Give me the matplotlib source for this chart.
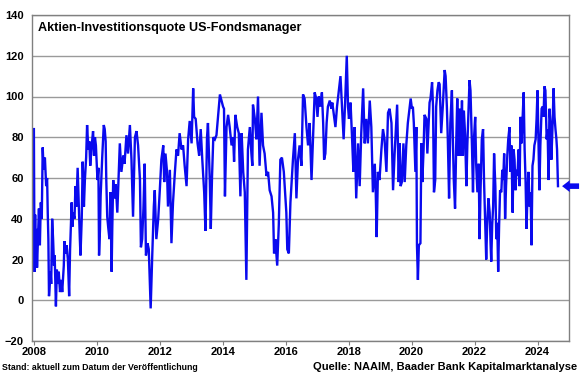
import numpy as np
import matplotlib
matplotlib.use("Agg")
import matplotlib.pyplot as plt

plt.rcParams["font.family"] = ["Liberation Sans", "DejaVu Sans"]

# NAAIM Exposure Index (Jahr als Dezimalzahl, Wert)
seg_2008_2010 = [
    (2008.00, 84), (2008.02, 14), (2008.04, 42), (2008.06, 20), (2008.08, 35), (2008.10, 16),
    (2008.13, 30), (2008.16, 45), (2008.19, 27), (2008.22, 48), (2008.25, 40), (2008.28, 75),
    (2008.31, 64), (2008.35, 70), (2008.39, 56), (2008.42, 60), (2008.44, 43), (2008.46, 30),
    (2008.48, 2), (2008.53, 14), (2008.55, 8), (2008.58, 40), (2008.61, 30), (2008.64, 17),
    (2008.66, 22), (2008.70, -3), (2008.73, 15), (2008.76, 8), (2008.79, 14), (2008.83, 4),
    (2008.87, 10), (2008.90, 4), (2008.95, 17), (2008.97, 29), (2009.00, 23), (2009.04, 27),
    (2009.08, 20), (2009.12, 2), (2009.15, 25), (2009.20, 48), (2009.22, 36), (2009.25, 43),
    (2009.29, 40), (2009.32, 56), (2009.35, 46), (2009.39, 65), (2009.42, 50), (2009.46, 30),
    (2009.48, 22), (2009.52, 40), (2009.55, 68), (2009.59, 46), (2009.62, 59), (2009.66, 70),
    (2009.69, 86), (2009.73, 74), (2009.76, 78), (2009.79, 66), (2009.83, 75), (2009.88, 83),
    (2009.91, 71), (2009.94, 80), (2009.97, 76), (2010.02, 59), (2010.05, 65), (2010.07, 22),
    (2010.10, 35), (2010.12, 51), (2010.17, 70), (2010.22, 86), (2010.25, 84), (2010.28, 78),
    (2010.30, 59), (2010.33, 41), (2010.36, 36), (2010.40, 30), (2010.43, 53), (2010.47, 14),
    (2010.49, 35), (2010.52, 59), (2010.56, 50), (2010.60, 57), (2010.65, 43), (2010.73, 77),
    (2010.78, 63), (2010.84, 71), (2010.88, 67),
]
seg_2011_2013 = [
    (2010.94, 81), (2010.99, 72), (2011.05, 86), (2011.10, 69), (2011.15, 41), (2011.21, 80),
    (2011.26, 83), (2011.31, 76), (2011.37, 59), (2011.40, 26), (2011.44, 30), (2011.48, 45),
    (2011.52, 67), (2011.56, 22), (2011.61, 28), (2011.65, 25), (2011.71, -4), (2011.76, 22),
    (2011.81, 46), (2011.84, 54), (2011.89, 30), (2011.95, 40), (2012.00, 54), (2012.05, 69),
    (2012.11, 76), (2012.14, 58), (2012.18, 72), (2012.23, 63), (2012.26, 46), (2012.32, 64),
    (2012.37, 28), (2012.42, 48), (2012.48, 63), (2012.53, 74), (2012.58, 71), (2012.63, 82),
    (2012.69, 74), (2012.74, 76), (2012.79, 66), (2012.85, 56), (2012.90, 79), (2012.95, 88),
    (2013.01, 77), (2013.06, 104), (2013.09, 90), (2013.14, 89), (2013.20, 77), (2013.25, 71),
    (2013.30, 84), (2013.35, 69), (2013.41, 53), (2013.45, 34), (2013.50, 80), (2013.53, 87),
    (2013.59, 58), (2013.62, 35), (2013.66, 61), (2013.70, 80), (2013.75, 79), (2013.80, 81),
]
seg_2014_2016 = [
    (2013.91, 101), (2013.96, 98), (2014.01, 95), (2014.04, 94), (2014.07, 51), (2014.12, 85),
    (2014.17, 91), (2014.22, 85), (2014.28, 76), (2014.33, 80), (2014.36, 68), (2014.40, 91),
    (2014.46, 85), (2014.51, 82), (2014.56, 51), (2014.60, 82), (2014.65, 63), (2014.70, 53),
    (2014.75, 10), (2014.80, 74), (2014.86, 85), (2014.91, 72), (2014.94, 66), (2014.96, 96),
    (2015.02, 89), (2015.07, 79), (2015.12, 100), (2015.17, 66), (2015.23, 92), (2015.28, 76),
    (2015.33, 72), (2015.39, 61), (2015.44, 63), (2015.49, 54), (2015.55, 51), (2015.60, 43),
    (2015.63, 23), (2015.67, 30), (2015.73, 17), (2015.78, 37), (2015.83, 69), (2015.88, 70),
    (2015.94, 63), (2015.99, 51), (2016.02, 43), (2016.05, 25), (2016.10, 23), (2016.15, 48),
    (2016.18, 56), (2016.23, 69), (2016.29, 82), (2016.34, 50), (2016.39, 69), (2016.44, 76),
    (2016.50, 66), (2016.55, 101), (2016.60, 99), (2016.66, 85), (2016.71, 76), (2016.76, 87),
    (2016.82, 59), (2016.87, 80),
]
seg_2017_2019 = [
    (2016.92, 102), (2016.97, 99), (2017.01, 90), (2017.05, 100), (2017.10, 95), (2017.15, 102),
    (2017.19, 87), (2017.22, 69), (2017.26, 72), (2017.30, 87), (2017.34, 95), (2017.40, 98),
    (2017.45, 94), (2017.48, 97), (2017.54, 90), (2017.58, 85), (2017.63, 95), (2017.68, 102),
    (2017.74, 110), (2017.79, 95), (2017.84, 79), (2017.89, 98), (2017.94, 120), (2017.98, 95),
    (2018.01, 89), (2018.06, 97), (2018.11, 79), (2018.15, 63), (2018.19, 85), (2018.24, 50),
    (2018.30, 77), (2018.35, 56), (2018.40, 82), (2018.46, 104), (2018.51, 77), (2018.56, 89),
    (2018.61, 77), (2018.67, 98), (2018.72, 85), (2018.77, 53), (2018.83, 67), (2018.86, 53),
    (2018.89, 31), (2018.93, 63), (2018.98, 59), (2019.04, 74), (2019.09, 84), (2019.14, 79),
    (2019.20, 63), (2019.25, 92), (2019.30, 94), (2019.36, 87), (2019.41, 54), (2019.46, 72),
    (2019.54, 96), (2019.59, 58), (2019.62, 77), (2019.65, 56), (2019.69, 58), (2019.74, 77),
    (2019.78, 58), (2019.83, 76), (2019.88, 87),
]
seg_2020_2022 = [
    (2019.97, 99), (2020.01, 94), (2020.04, 95), (2020.07, 87), (2020.12, 63), (2020.15, 85),
    (2020.17, 27), (2020.20, 10), (2020.23, 27), (2020.28, 28), (2020.31, 77), (2020.34, 58),
    (2020.38, 74), (2020.41, 91), (2020.47, 89), (2020.50, 72), (2020.54, 87), (2020.57, 97),
    (2020.60, 99), (2020.65, 107), (2020.68, 95), (2020.71, 53), (2020.75, 59), (2020.78, 95),
    (2020.82, 103), (2020.86, 107), (2020.89, 106), (2020.94, 82), (2020.99, 95), (2021.05, 113),
    (2021.08, 110), (2021.12, 95), (2021.15, 79), (2021.19, 50), (2021.23, 87), (2021.28, 103),
    (2021.31, 79), (2021.34, 59), (2021.38, 45), (2021.42, 79), (2021.45, 99), (2021.49, 71),
    (2021.52, 94), (2021.56, 71), (2021.60, 98), (2021.63, 71), (2021.66, 93), (2021.70, 81),
    (2021.74, 56), (2021.77, 76), (2021.81, 95), (2021.84, 108), (2021.87, 103), (2021.92, 74),
    (2021.95, 53), (2021.98, 79), (2022.02, 90), (2022.05, 67), (2022.09, 53), (2022.13, 67),
    (2022.16, 30), (2022.19, 54), (2022.23, 79), (2022.27, 84), (2022.30, 59), (2022.34, 37),
    (2022.37, 20), (2022.40, 37), (2022.44, 50),
]
seg_2022_2024 = [
    (2022.48, 43), (2022.51, 27), (2022.53, 19), (2022.56, 37), (2022.59, 46), (2022.62, 72),
    (2022.66, 56), (2022.69, 30), (2022.72, 38), (2022.75, 14), (2022.78, 37), (2022.81, 54),
    (2022.85, 53), (2022.88, 64), (2022.91, 59), (2022.94, 72), (2022.97, 40), (2023.00, 56),
    (2023.04, 71), (2023.07, 79), (2023.11, 85), (2023.14, 63), (2023.17, 76), (2023.21, 43),
    (2023.24, 74), (2023.27, 69), (2023.30, 54), (2023.33, 64), (2023.36, 61), (2023.40, 74),
    (2023.43, 56), (2023.46, 90), (2023.49, 77), (2023.52, 87), (2023.56, 102), (2023.59, 74),
    (2023.62, 59), (2023.65, 35), (2023.68, 51), (2023.71, 63), (2023.75, 46), (2023.78, 53),
    (2023.81, 27), (2023.84, 66), (2023.87, 69), (2023.90, 76), (2023.94, 79), (2023.97, 89),
    (2024.00, 103), (2024.03, 77), (2024.06, 54), (2024.09, 76), (2024.13, 94), (2024.16, 95),
    (2024.19, 90), (2024.22, 105), (2024.25, 103), (2024.29, 79), (2024.32, 84), (2024.35, 59),
    (2024.38, 94), (2024.41, 87), (2024.44, 69), (2024.48, 87), (2024.51, 104), (2024.54, 90),
    (2024.57, 84), (2024.60, 79), (2024.62, 74), (2024.65, 56),
]

year_ticks = list(range(2008, 2025, 2))
y_ticks = list(range(-20, 141, 20))
last_value = seg_2022_2024[-1][1]

title = "Aktien-Investitionsquote US-Fondsmanager"
note_left = "Stand: aktuell zum Datum der Veröffentlichung"
note_right = "Quelle: NAAIM, Baader Bank Kapitalmarktanalyse"

data = np.array(seg_2008_2010 + seg_2011_2013 + seg_2014_2016
                + seg_2017_2019 + seg_2020_2022 + seg_2022_2024)

fig = plt.figure(figsize=(5.8, 3.75), dpi=100)
ax = fig.add_axes([32 / 580, 1 - 341 / 375, 537 / 580, 326 / 375])

ax.plot(data[:, 0], data[:, 1], color="#0a0aee", lw=1.7, solid_joinstyle="miter")

ax.set_xlim(2007.94, 2025.0)
ax.set_ylim(-20, 140)
ax.set_xticks(year_ticks)
ax.set_yticks(y_ticks)
ax.grid(axis="y", color="#9a9a9a", lw=1)
ax.set_axisbelow(True)
for s in ax.spines.values():
    s.set_color("#808080")
    s.set_linewidth(1)
ax.tick_params(axis="x", length=3, color="#808080", pad=1.5, labelsize=8)
ax.tick_params(axis="y", length=0, pad=6, labelsize=8)
for lab in ax.get_xticklabels() + ax.get_yticklabels():
    lab.set_fontweight("bold")

ax.text(0.011, 0.978, title, transform=ax.transAxes, va="top", ha="left",
        fontsize=9.1, fontweight="bold")

# Pfeil rechts fuer den aktuellen Wert
ax.annotate("", xy=(2024.78, last_value), xytext=(2025.32, last_value),
            annotation_clip=False,
            arrowprops=dict(arrowstyle="simple,head_length=0.55,head_width=0.85,tail_width=0.4",
                            color="#0a0aee", lw=0, shrinkA=0, shrinkB=0, mutation_scale=10))

fig.text(2 / 580, 1 - 368 / 375, note_left, fontsize=6.3, fontweight="bold", va="center", ha="left")
fig.text(577 / 580, 1 - 367 / 375, note_right, fontsize=8.0, fontweight="bold", va="center", ha="right")

fig.savefig("out.png", dpi=100)
